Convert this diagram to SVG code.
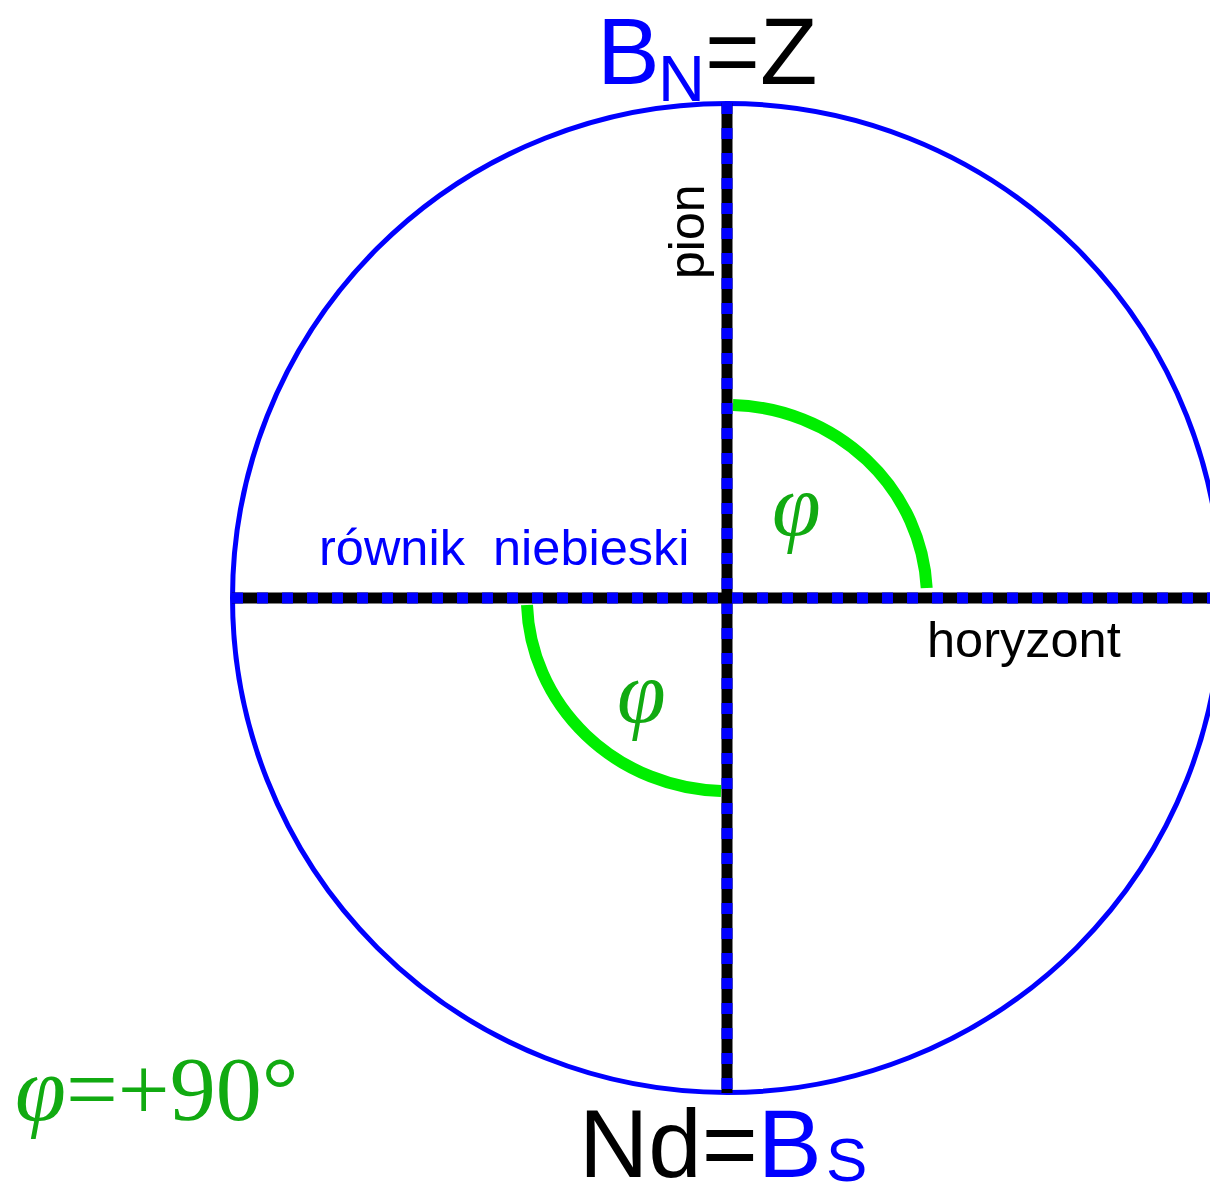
<svg xmlns="http://www.w3.org/2000/svg" width="1210" height="1196" viewBox="0 0 1210 1196">
<style>
.sans{font-family:"Liberation Sans",Arial,sans-serif}
.serif{font-family:"Liberation Serif","Times New Roman",serif}
.blue{fill:#0000ff}
.black{fill:#000000}
.green{fill:#11aa11}
.axis{stroke:#000000;stroke-width:11;fill:none}
.axisdash{stroke:#0000ff;stroke-width:11;fill:none;stroke-dasharray:11 14}
.arc{stroke:#00ee00;stroke-width:12;fill:none}
</style>
<rect width="1210" height="1196" fill="#ffffff"/>
<g id="sphere">
<circle cx="727" cy="598" r="494.5" fill="none" stroke="#0000ff" stroke-width="5"/>
</g>
<g id="connectors">
<line class="axis" x1="727" y1="103" x2="727" y2="1093"/>
<line class="axisdash" x1="727" y1="103" x2="727" y2="1093"/>
<line class="axis" x1="232" y1="598" x2="1210" y2="598"/>
<line class="axisdash" x1="232" y1="598" x2="1210" y2="598"/>
</g>
<g id="angle-upper">
<path class="arc" d="M 733 405 A 200 193 0 0 1 926.7 588"/>
<text class="serif green" x="772" y="535" font-size="88" font-style="italic">φ</text>
</g>
<g id="angle-lower">
<path class="arc" d="M 527 605 A 200 193 0 0 0 721 791"/>
<text class="serif green" x="617" y="722" font-size="88" font-style="italic">φ</text>
</g>
<g id="label-zenith">
<text class="sans" font-size="94" y="84"><tspan class="blue" x="597">B</tspan><tspan class="blue" x="658" y="101" font-size="65">N</tspan><tspan class="black" x="705" y="84">=Z</tspan></text>
</g>
<g id="label-nadir">
<text class="sans" font-size="96" y="1177"><tspan class="black" x="579">Nd=</tspan><tspan class="blue">B</tspan><tspan class="blue" x="826" y="1181" font-size="62">S</tspan></text>
</g>
<g id="label-pion">
<text class="sans black" font-size="50" transform="translate(704,279) rotate(-90)">pion</text>
</g>
<g id="label-rownik">
<text class="sans blue" font-size="50.5" x="319" y="565" xml:space="preserve">równik  niebieski</text>
</g>
<g id="label-horyzont">
<text class="sans black" font-size="50.5" x="927" y="657">horyzont</text>
</g>
<g id="label-latitude">
<text class="serif green" font-size="92" y="1120"><tspan x="15" font-style="italic">φ</tspan><tspan>=+90°</tspan></text>
</g>
</svg>
